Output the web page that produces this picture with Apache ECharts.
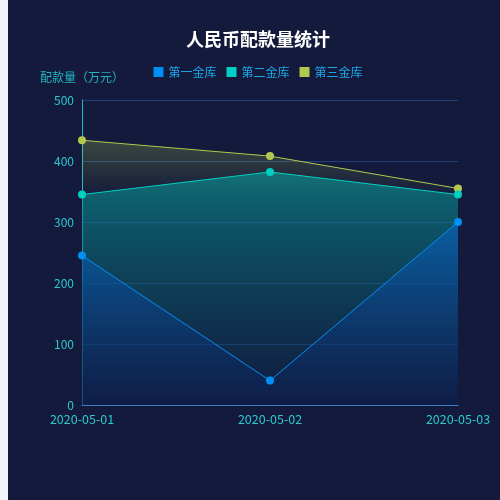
<!DOCTYPE html>
<html>
<head>
<meta charset="utf-8">
<script src="https://cdn.jsdelivr.net/npm/echarts@6/dist/echarts.min.js"></script>
<style>
  html, body { margin: 0; padding: 0; background: #f3f4f9; overflow: hidden; }
  #main { position: absolute; left: 8px; top: 0; width: 500px; height: 500px; background: #131a3b; }
</style>
</head>
<body>
<div id="main"></div>
<script>
const dates = ["2020-05-01", "2020-05-02", "2020-05-03"];
const names = ["第一金库", "第二金库", "第三金库"];
const vault1 = [245, 40, 300];
const vault2 = [345, 382, 345];
const vault3 = [434, 408, 355];
const colors = ["#0090f5", "#00cfc4", "#b0c94e"];
// area gradient stops per series: [offset, color]
const areaStops = [
  [[0, "rgba(8,100,200,0.88)"], [1, "rgba(12,30,80,0.6)"]],
  [[0, "rgba(8,160,155,0.85)"], [1, "rgba(12,30,70,0.6)"]],
  [[0, "rgba(176,201,78,0.36)"], [0.22, "rgba(176,201,78,0)"]]
];
const font = "'Noto Sans CJK SC', 'Noto Sans', sans-serif";

function makeSeries(i, data) {
  return {
    name: names[i],
    type: "line",
    z: 5 - i,
    data: data,
    symbol: "circle",
    symbolSize: 8,
    itemStyle: { color: colors[i] },
    lineStyle: { width: 1, color: colors[i] },
    areaStyle: {
      color: new echarts.graphic.LinearGradient(0, 0, 0, 1,
        areaStops[i].map(s => ({ offset: s[0], color: s[1] })))
    }
  };
}

const chart = echarts.init(document.getElementById("main"));
chart.setOption({
  backgroundColor: "#131a3b",
  animation: false,
  textStyle: { fontFamily: font },
  title: {
    text: "人民币配款量统计",
    left: "center",
    top: 25,
    textStyle: { color: "#fff", fontSize: 18, fontWeight: "bold", fontFamily: font }
  },
  legend: {
    top: 61,
    left: "center",
    icon: "rect",
    itemWidth: 10,
    itemHeight: 10,
    itemGap: 10,
    data: names,
    textStyle: { color: "#1ea8e8", fontSize: 12, fontFamily: font }
  },
  grid: { left: 74, right: 50, top: 100, bottom: 95 },
  xAxis: {
    type: "category",
    boundaryGap: false,
    data: dates,
    axisLine: { lineStyle: { color: "#3a7cc0" } },
    axisTick: { show: false },
    axisLabel: { color: "#2ccad0", fontSize: 12.5, fontFamily: font }
  },
  yAxis: {
    type: "value",
    name: "配款量（万元）",
    nameGap: 17,
    nameTextStyle: { color: "#22b4c0", fontSize: 12, fontFamily: font },
    min: 0,
    max: 500,
    interval: 100,
    axisLine: { show: true, lineStyle: { color: "#20b8c8" } },
    axisTick: { show: false },
    axisLabel: { color: "#2ccad0", fontSize: 12, fontFamily: font },
    splitLine: { lineStyle: { color: "#1f4078" } }
  },
  series: [
    makeSeries(0, vault1),
    makeSeries(1, vault2),
    makeSeries(2, vault3)
  ]
});
</script>
</body>
</html>
